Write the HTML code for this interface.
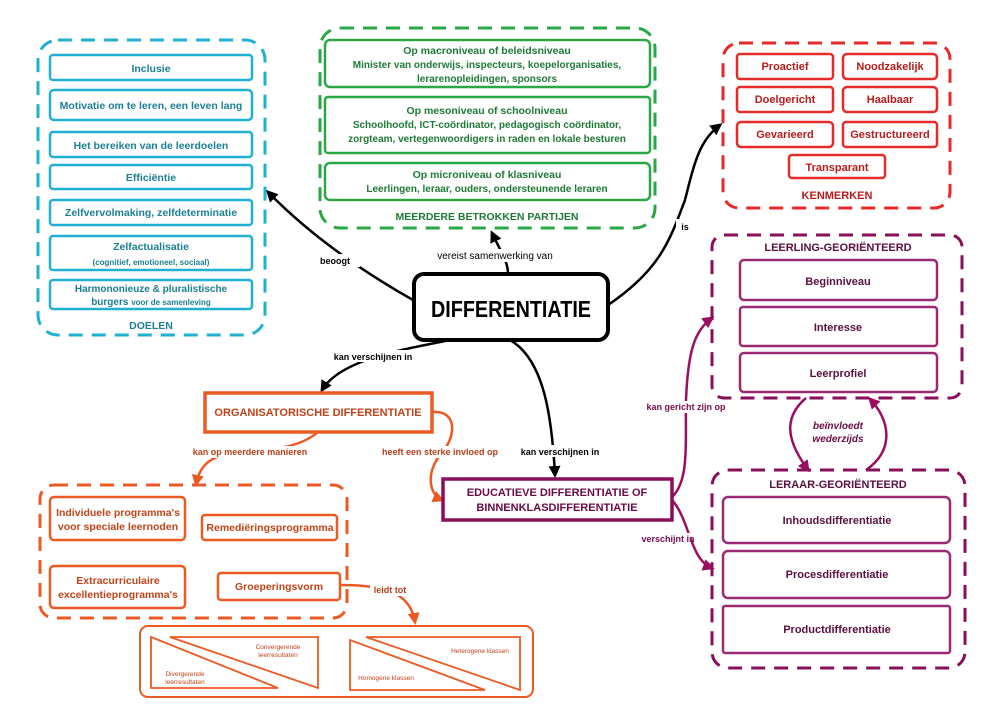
<!DOCTYPE html>
<html><head><meta charset="utf-8"><style>
html,body{margin:0;padding:0;background:#fff;}
svg{display:block;font-family:"Liberation Sans",sans-serif;font-weight:bold;}
</style></head><body>
<svg width="1000" height="707" viewBox="0 0 1000 707">
<defs>
<marker id="ap" markerWidth="12" markerHeight="12" refX="9" refY="6" orient="auto" markerUnits="userSpaceOnUse"><path d="M0,0 L12,6 L0,12 Z" fill="#9b0f63"/></marker>
<marker id="ao" markerWidth="12" markerHeight="12" refX="9" refY="6" orient="auto" markerUnits="userSpaceOnUse"><path d="M0,0 L12,6 L0,12 Z" fill="#ec5a24"/></marker>
<marker id="ab" markerWidth="12" markerHeight="12" refX="9" refY="6" orient="auto" markerUnits="userSpaceOnUse"><path d="M0,0 L12,6 L0,12 Z" fill="#000"/></marker>
</defs>

<g fill="none" stroke="#000" stroke-width="2.5">
<path d="M413,300 C360,270 310,235 268,192" marker-end="url(#ab)"/>
<path d="M508,273 C508,262 500,250 492,233" marker-end="url(#ab)"/>
<path d="M608,305 C660,270 670,240 685,200 C695,160 700,140 720,125" marker-end="url(#ab)"/>
<path d="M450,340 C400,350 340,360 322,390" marker-end="url(#ab)"/>
<path d="M510,340 C545,360 552,420 555,475" marker-end="url(#ab)"/>
</g>
<g font-size="9" fill="#000" text-anchor="middle">
<rect x="310" y="254" width="50" height="13" fill="#fff"/>
<text x="335" y="264">beoogt</text>
<rect x="432" y="249" width="126" height="13" fill="#fff"/>
<text x="495" y="259" font-weight="normal" font-size="10">vereist samenwerking van</text>
<rect x="676" y="219" width="16" height="14" fill="#fff"/>
<text x="685" y="230">is</text>
<rect x="335" y="350" width="80" height="12" fill="#fff"/>
<text x="373" y="360">kan verschijnen in</text>
<rect x="520" y="445" width="80" height="12" fill="#fff"/>
<text x="560" y="455">kan verschijnen in</text>
</g>

<g fill="none" stroke="#9b0f63" stroke-width="2.5">
<path d="M672,497 C690,480 685,440 686,400 C688,350 695,330 712,318" marker-end="url(#ap)"/>
<path d="M672,500 C690,520 690,560 712,568" marker-end="url(#ap)"/>
<path d="M806,398 C780,420 790,445 808,470" marker-end="url(#ap)"/>
<path d="M866,470 C895,450 890,420 870,399" marker-end="url(#ap)"/>
</g>
<g font-size="9" fill="#7a0c4e" text-anchor="middle">
<rect x="648" y="401" width="76" height="12" fill="#fff"/>
<text x="686" y="410">kan gericht zijn op</text>
<rect x="645" y="533" width="46" height="12" fill="#fff"/>
<text x="668" y="542">verschijnt in</text>
<text x="838" y="429" font-style="italic" font-size="10" fill="#6a0a45">beïnvloedt</text>
<text x="838" y="442" font-style="italic" font-size="10" fill="#6a0a45">wederzijds</text>
</g>

<g fill="none" stroke="#ec5a24" stroke-width="2.5">
<path d="M318,432 C300,448 270,450 240,452 C210,455 200,465 196,484" marker-end="url(#ao)"/>
<path d="M432,412 C460,410 455,440 440,455 C425,475 430,495 442,500" marker-end="url(#ao)"/>
<path d="M340,585 C380,585 410,590 415,622" marker-end="url(#ao)"/>
</g>
<g font-size="9" fill="#b8401a" text-anchor="middle">
<rect x="192" y="446" width="116" height="12" fill="#fff"/>
<text x="250" y="455">kan op meerdere manieren</text>
<rect x="380" y="446" width="120" height="12" fill="#fff"/>
<text x="440" y="455">heeft een sterke invloed op</text>
<rect x="370" y="584" width="40" height="12" fill="#fff"/>
<text x="390" y="593">leidt tot</text>
</g>

<rect x="38" y="40" width="227" height="295" rx="20" fill="none" stroke="#1fb0d2" stroke-width="3" stroke-dasharray="14,9"/>
<g fill="#fff" stroke="#1fb0d2" stroke-width="2.5">
<rect x="50" y="55" width="202" height="25" rx="3"/>
<rect x="50" y="90" width="202" height="30" rx="4"/>
<rect x="50" y="132" width="202" height="25" rx="3"/>
<rect x="50" y="165" width="202" height="24" rx="3"/>
<rect x="50" y="200" width="202" height="25" rx="3"/>
<rect x="50" y="236" width="202" height="34" rx="3"/>
<rect x="50" y="280" width="202" height="29" rx="3"/>
</g>
<g fill="#1b7f96" font-size="10.5" text-anchor="middle">
<text x="151" y="72">Inclusie</text>
<text x="151" y="109">Motivatie om te leren, een leven lang</text>
<text x="151" y="149">Het bereiken van de leerdoelen</text>
<text x="151" y="181">Efficiëntie</text>
<text x="151" y="216">Zelfvervolmaking, zelfdeterminatie</text>
<text x="151" y="250">Zelfactualisatie</text>
<text x="151" y="265" font-size="8">(cognitief, emotioneel, sociaal)</text>
<text x="151" y="292" font-size="10">Harmononieuze &amp; pluralistische</text>
<text x="151" y="305" font-size="10">burgers <tspan font-size="8">voor de samenleving</tspan></text>
<text x="151" y="329">DOELEN</text>
</g>

<rect x="320" y="28" width="335" height="200" rx="20" fill="none" stroke="#2aa845" stroke-width="3" stroke-dasharray="14,9"/>
<g fill="#fff" stroke="#2aa845" stroke-width="2.5">
<rect x="325" y="40" width="325" height="47" rx="5"/>
<rect x="325" y="97" width="325" height="56" rx="3"/>
<rect x="325" y="163" width="325" height="37" rx="5"/>
</g>
<g fill="#1e7a35" font-size="10.5" text-anchor="middle">
<text x="487" y="54">Op macroniveau of beleidsniveau</text>
<text x="487" y="68" font-size="10">Minister van onderwijs, inspecteurs, koepelorganisaties,</text>
<text x="487" y="82" font-size="10">lerarenopleidingen, sponsors</text>
<text x="487" y="114">Op mesoniveau of schoolniveau</text>
<text x="487" y="128" font-size="10">Schoolhoofd, ICT-coördinator, pedagogisch coördinator,</text>
<text x="487" y="142" font-size="10">zorgteam, vertegenwoordigers in raden en lokale besturen</text>
<text x="487" y="178">Op microniveau of klasniveau</text>
<text x="487" y="192" font-size="10">Leerlingen, leraar, ouders, ondersteunende leraren</text>
<text x="487" y="220">MEERDERE BETROKKEN PARTIJEN</text>
</g>

<rect x="414" y="274" width="194" height="66" rx="10" fill="#fff" stroke="#000" stroke-width="4"/>
<text x="431" y="317" font-size="23" font-weight="900" fill="#000" textLength="160" lengthAdjust="spacingAndGlyphs">DIFFERENTIATIE</text>

<rect x="723" y="43" width="227" height="165" rx="16" fill="none" stroke="#e62a2a" stroke-width="3" stroke-dasharray="14,9"/>
<g fill="#fff" stroke="#e62a2a" stroke-width="2.5">
<rect x="737" y="54" width="96" height="25" rx="3"/>
<rect x="843" y="54" width="94" height="25" rx="4"/>
<rect x="737" y="87" width="96" height="25" rx="3"/>
<rect x="843" y="87" width="94" height="25" rx="4"/>
<rect x="737" y="122" width="96" height="25" rx="4"/>
<rect x="843" y="122" width="94" height="25" rx="3"/>
<rect x="789" y="155" width="96" height="23" rx="3"/>
</g>
<g fill="#b71c1c" font-size="11" text-anchor="middle">
<text x="785" y="70">Proactief</text>
<text x="890" y="70">Noodzakelijk</text>
<text x="785" y="103">Doelgericht</text>
<text x="890" y="103">Haalbaar</text>
<text x="785" y="138">Gevarieerd</text>
<text x="890" y="138">Gestructureerd</text>
<text x="837" y="171">Transparant</text>
<text x="837" y="199">KENMERKEN</text>
</g>

<rect x="712" y="235" width="250" height="163" rx="12" fill="none" stroke="#8a0f5a" stroke-width="3" stroke-dasharray="14,9"/>
<g fill="#fff" stroke="#9b2a72" stroke-width="2.5">
<rect x="740" y="260" width="197" height="40" rx="4"/>
<rect x="740" y="307" width="197" height="39" rx="3"/>
<rect x="740" y="353" width="197" height="39" rx="4"/>
</g>
<g fill="#5a1040" font-size="11" text-anchor="middle">
<text x="838" y="251">LEERLING-GEORIËNTEERD</text>
<text x="838" y="285">Beginniveau</text>
<text x="838" y="331">Interesse</text>
<text x="838" y="377">Leerprofiel</text>
</g>

<rect x="712" y="470" width="253" height="198" rx="16" fill="none" stroke="#8a0f5a" stroke-width="3" stroke-dasharray="14,9"/>
<g fill="#fff" stroke="#9b2a72" stroke-width="2.5">
<rect x="723" y="497" width="227" height="46" rx="5"/>
<rect x="723" y="551" width="227" height="47" rx="5"/>
<rect x="723" y="606" width="227" height="47" rx="2"/>
</g>
<g fill="#5a1040" font-size="11" text-anchor="middle">
<text x="838" y="488">LERAAR-GEORIËNTEERD</text>
<text x="837" y="524">Inhoudsdifferentiatie</text>
<text x="837" y="578">Procesdifferentiatie</text>
<text x="837" y="633">Productdifferentiatie</text>
</g>

<rect x="443" y="479" width="229" height="41" fill="#fff" stroke="#8a0f5a" stroke-width="3.5"/>
<g fill="#6a0a45" font-size="11" text-anchor="middle">
<text x="557" y="496">EDUCATIEVE DIFFERENTIATIE OF</text>
<text x="557" y="511">BINNENKLASDIFFERENTIATIE</text>
</g>

<rect x="205" y="393" width="227" height="39" fill="#fff" stroke="#ec5a24" stroke-width="3.5"/>
<text x="318" y="416" text-anchor="middle" font-size="11" fill="#c0431a">ORGANISATORISCHE DIFFERENTIATIE</text>

<rect x="40" y="485" width="307" height="133" rx="14" fill="none" stroke="#ec5a24" stroke-width="3" stroke-dasharray="14,9"/>
<g fill="#fff" stroke="#ec5a24" stroke-width="2.5">
<rect x="50" y="497" width="135" height="43" rx="4"/>
<rect x="202" y="515" width="135" height="25" rx="3"/>
<rect x="50" y="566" width="135" height="42" rx="4"/>
<rect x="218" y="573" width="122" height="27" rx="3"/>
</g>
<g fill="#c0431a" font-size="10.5" text-anchor="middle">
<text x="118" y="516">Individuele programma's</text>
<text x="118" y="530">voor speciale leernoden</text>
<text x="270" y="531">Remediëringsprogramma</text>
<text x="118" y="584">Extracurriculaire</text>
<text x="118" y="598">excellentieprogramma's</text>
<text x="279" y="590">Groeperingsvorm</text>
</g>

<rect x="140" y="626" width="393" height="71" rx="8" fill="none" stroke="#ec5a24" stroke-width="2"/>
<g fill="none" stroke="#ec5a24" stroke-width="1.8">
<path d="M151,637 L151,688 L278,688 Z"/>
<path d="M170,637 L318,637 L318,688 Z"/>
<path d="M350,640 L350,690 L485,690 Z"/>
<path d="M366,637 L520,637 L520,690 Z"/>
</g>
<g fill="#c0431a" font-size="6.5" text-anchor="middle" font-weight="normal">
<text x="278" y="649">Convergerende</text>
<text x="278" y="657">leerresultaten</text>
<text x="185" y="676">Divergerende</text>
<text x="185" y="684">leerresultaten</text>
<text x="480" y="653">Heterogene klassen</text>
<text x="386" y="680">Homogene klassen</text>
</g>
</svg>
</body></html>
